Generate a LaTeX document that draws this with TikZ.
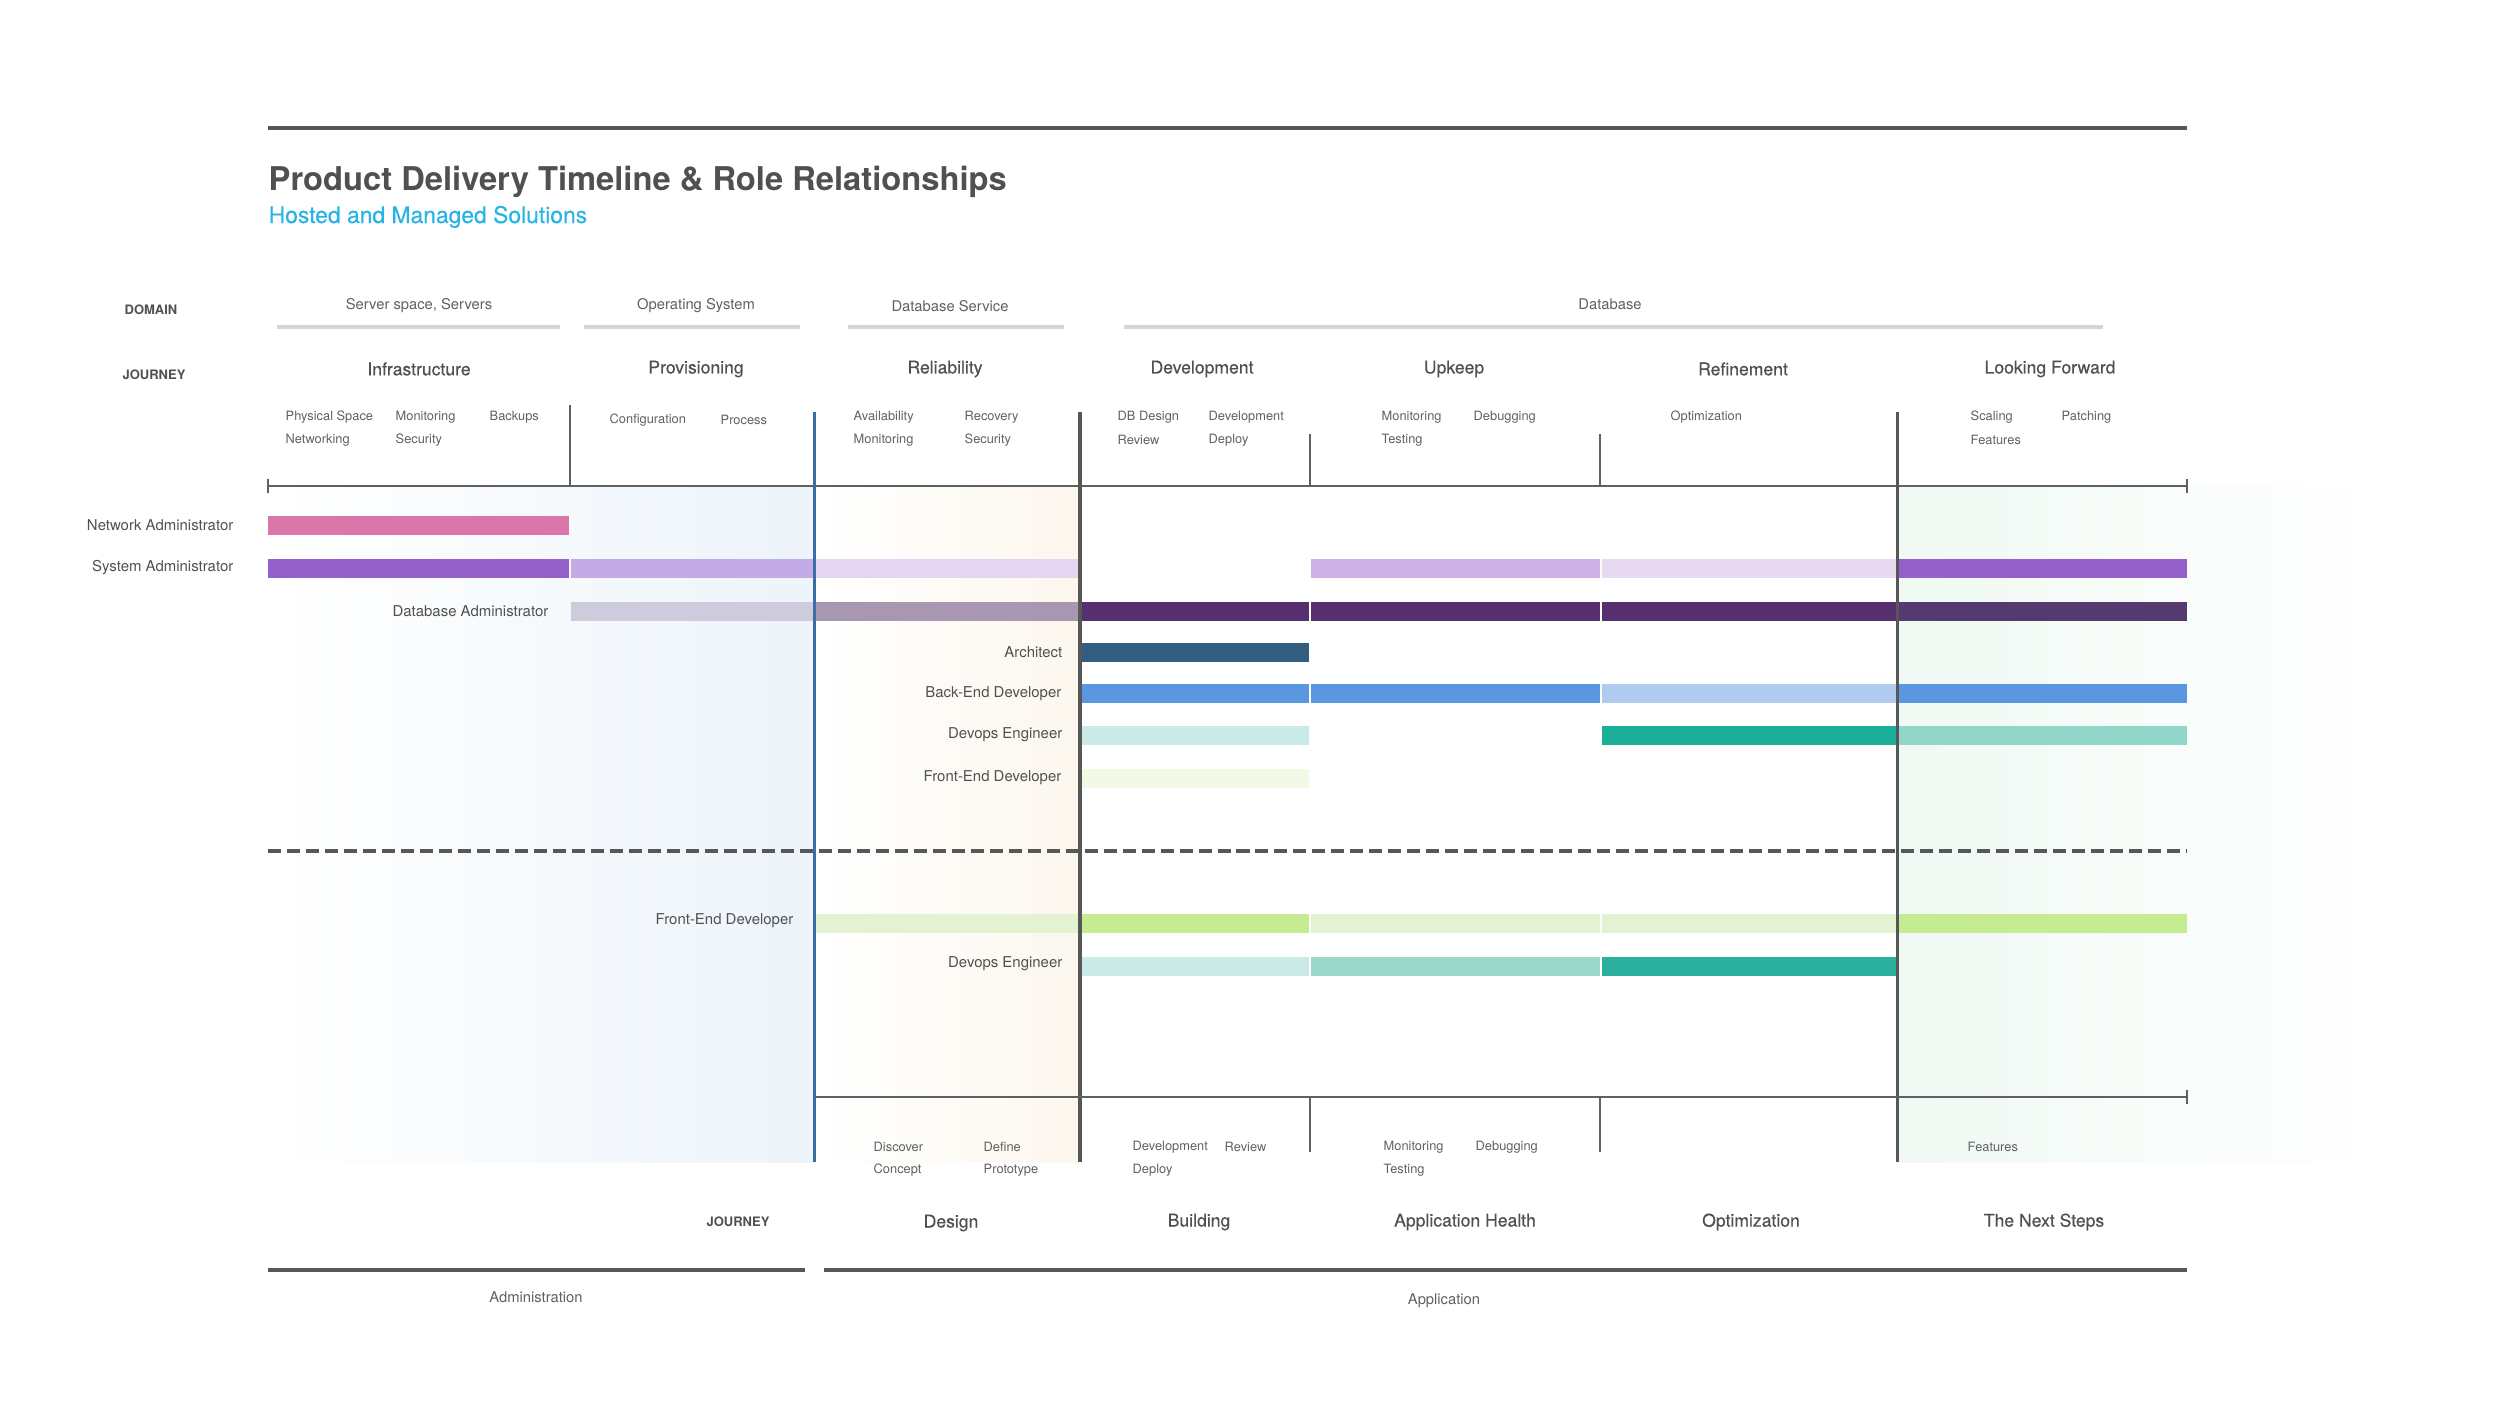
\documentclass[tikz,border=0pt]{standalone}
\usepackage{fontspec}
\setmainfont{TeX Gyre Heros}

\definecolor{ink}{HTML}{505050}
\definecolor{softink}{HTML}{606060}
\definecolor{rule}{HTML}{575757}
\definecolor{skyblue}{HTML}{27B4E4}
\definecolor{domgray}{HTML}{D5D5D5}
\definecolor{phaseblue}{HTML}{3B6EA5}
\definecolor{admbg}{HTML}{EDF4FA}
\definecolor{relbg}{HTML}{FCF7EE}
\definecolor{fwdbg}{HTML}{F0F9F4}
% role colours
\definecolor{netpink}{HTML}{DB76AA}
\definecolor{sysA}{HTML}{9361C9}
\definecolor{sysB}{HTML}{C3ACE5}
\definecolor{sysC}{HTML}{E4D6F0}
\definecolor{sysD}{HTML}{CCB0E6}
\definecolor{sysE}{HTML}{E7D9F2}
\definecolor{dbaA}{HTML}{CDCBDC}
\definecolor{dbaB}{HTML}{A797B0}
\definecolor{dbaC}{HTML}{572F6E}
\definecolor{dbaD}{HTML}{543A6E}
\definecolor{archblue}{HTML}{345E80}
\definecolor{backA}{HTML}{5A97E0}
\definecolor{backB}{HTML}{AFCBF0}
\definecolor{opsA}{HTML}{C9EAE6}
\definecolor{opsB}{HTML}{1BAE99}
\definecolor{opsC}{HTML}{91D7C9}
\definecolor{opsD}{HTML}{9AD8CB}
\definecolor{opsE}{HTML}{2AB09D}
\definecolor{frontA}{HTML}{F0FAE5}
\definecolor{frontB}{HTML}{E4F2D2}
\definecolor{frontC}{HTML}{C6EC92}

\begin{document}
\begin{tikzpicture}[x=0.01cm, y=-0.01cm,
    subitem/.style={anchor=west, inner sep=0pt, text=softink, font=\fontsize{3.65}{4.4}\selectfont},
    heading/.style={inner sep=0pt, text=ink, font=\fontsize{5}{6}\selectfont\addfontfeatures{FakeBold=0.4}},
    domlabel/.style={inner sep=0pt, text=softink, font=\fontsize{4.2}{5}\selectfont},
    role/.style={anchor=east, inner sep=0pt, text=ink, font=\fontsize{4.25}{5}\selectfont},
    tag/.style={inner sep=0pt, text=ink, font=\fontsize{3.7}{4.4}\selectfont\bfseries},
    divider/.style={draw=rule, line width=1pt},
    sepline/.style={draw=softink, line width=0.45pt}]

    \useasboundingbox (0,0) rectangle (2500,1421);

    % backgrounds of the phases
    \shade[left color=white, right color=admbg] (268,486) rectangle (814,1162);
    \shade[left color=white, right color=relbg] (816,486) rectangle (1080,1162);
    \shade[left color=fwdbg, right color=white] (1899,486) rectangle (2390,1162);

    % title
    \draw[rule, line width=1.3pt] (268,128) -- (2187,128);
    \node[anchor=base west, inner sep=0pt, text=ink, font=\fontsize{9.3}{11}\selectfont\bfseries] (title) at (268,190) {Product Delivery Timeline \& Role Relationships};
    \node[anchor=base west, inner sep=0pt, text=skyblue, font=\fontsize{6.5}{8}\selectfont\addfontfeatures{FakeBold=0.3}] (subtitle) at (268,223) {Hosted and Managed Solutions};

    % domains
    \node[tag] (domtag) at (151,310) {DOMAIN};
    \node[domlabel] (dservers) at (419,306) {Server space, Servers};
    \node[domlabel] (dos) at (696,306) {Operating System};
    \node[domlabel] (ddbs) at (950,306) {Database Service};
    \node[domlabel] (ddb) at (1610,304) {Database};
    \draw[domgray, line width=1.3pt] (277,327) -- (560,327);
    \draw[domgray, line width=1.3pt] (584,327) -- (800,327);
    \draw[domgray, line width=1.3pt] (848,327) -- (1064,327);
    \draw[domgray, line width=1.3pt] (1124,327) -- (2103,327);

    % journey (top)
    \node[tag] (jtag) at (154,375) {JOURNEY};
    \node[heading] (infra) at (419,369) {Infrastructure};
    \node[heading] (prov) at (696,369) {Provisioning};
    \node[heading] (rel) at (945,369) {Reliability};
    \node[heading] (dev) at (1202,369) {Development};
    \node[heading] (upk) at (1454,369) {Upkeep};
    \node[heading] (ref) at (1743,369) {Refinement};
    \node[heading] (fwd) at (2050,369) {Looking Forward};

    \node[subitem] (t1) at (285,417) {Physical Space};
    \node[subitem] (t2) at (285,440) {Networking};
    \node[subitem] (t3) at (395,417) {Monitoring};
    \node[subitem] (t4) at (395,440) {Security};
    \node[subitem] (t5) at (489,417) {Backups};
    \node[subitem] (t6) at (609,420) {Configuration};
    \node[subitem] (t7) at (720,420) {Process};
    \node[subitem] (t8) at (853,417) {Availability};
    \node[subitem] (t9) at (853,440) {Monitoring};
    \node[subitem] (t10) at (964,417) {Recovery};
    \node[subitem] (t11) at (964,440) {Security};
    \node[subitem] (t12) at (1117,417) {DB Design};
    \node[subitem] (t13) at (1117,440) {Review};
    \node[subitem] (t14) at (1208,417) {Development};
    \node[subitem] (t15) at (1208,440) {Deploy};
    \node[subitem] (t16) at (1381,417) {Monitoring};
    \node[subitem] (t17) at (1381,440) {Testing};
    \node[subitem] (t18) at (1473,417) {Debugging};
    \node[subitem] (t19) at (1670,417) {Optimization};
    \node[subitem] (t20) at (1970,417) {Scaling};
    \node[subitem] (t21) at (1970,440) {Features};
    \node[subitem] (t22) at (2061,417) {Patching};

    \draw[sepline] (570,405) -- (570,486);
    \draw[sepline] (1310,434) -- (1310,486);
    \draw[sepline] (1600,434) -- (1600,486);
    \draw[softink, line width=0.7pt] (268,486) -- (2187,486);
    \draw[softink, line width=0.5pt] (268,479) -- (268,493);
    \draw[softink, line width=0.5pt] (2187,479) -- (2187,493);

    % role bars
    \foreach \xa/\xb/\y/\c in {
        268/569/525.5/netpink,
        268/569/568/sysA, 571/813/568/sysB, 816/1078/568/sysC, 1311/1599.5/568/sysD, 1602/1896/568/sysE, 1899/2187/568/sysA,
        571/813/611/dbaA, 816/1078/611/dbaB, 1082/1308.5/611/dbaC, 1311/1599.5/611/dbaC, 1602/1896/611/dbaC, 1899/2187/611/dbaD,
        1082/1308.5/652/archblue,
        1082/1308.5/693.5/backA, 1311/1599.5/693.5/backA, 1602/1896/693.5/backB, 1899/2187/693.5/backA,
        1082/1308.5/735/opsA, 1602/1896/735/opsB, 1899/2187/735/opsC,
        1082/1308.5/778/frontA,
        816/1078/923.5/frontB, 1082/1308.5/923.5/frontC, 1311/1599.5/923.5/frontB, 1602/1896/923.5/frontB, 1899/2187/923.5/frontC,
        1082/1308.5/966/opsA, 1311/1599.5/966/opsD, 1602/1896/966/opsE}
        \fill[\c] (\xa,\y-9.5) rectangle (\xb,\y+9.5);

    \node[role] (netadm) at (234,525.5) {Network Administrator};
    \node[role] (sysadm) at (234,568) {System Administrator};
    \node[role] (dbadm) at (549,611) {Database Administrator};
    \node[role] (arch) at (1063,652) {Architect};
    \node[role] (backdev) at (1062,693.5) {Back-End Developer};
    \node[role] (devops) at (1063,735) {Devops Engineer};
    \node[role] (frontdev) at (1062,778) {Front-End Developer};

    \draw[rule, line width=1.05pt, dash pattern=on 3.7pt off 1.7pt] (268,851) -- (2187,851);

    \node[role] (frontdevb) at (794,921) {Front-End Developer};
    \node[role] (devopsb) at (1063,964) {Devops Engineer};

    % phase borders
    \draw[phaseblue, line width=1pt] (814.5,412) -- (814.5,1162);
    \draw[divider] (1080,412) -- (1080,1162);
    \draw[divider] (1897.5,412) -- (1897.5,1162);

    % journey (bottom)
    \draw[softink, line width=0.7pt] (816,1097) -- (2187,1097);
    \draw[softink, line width=0.5pt] (2187,1090) -- (2187,1104);
    \draw[sepline] (1310,1097) -- (1310,1152);
    \draw[sepline] (1600,1097) -- (1600,1152);

    \node[subitem] (b1) at (873,1147) {Discover};
    \node[subitem] (b2) at (873,1170) {Concept};
    \node[subitem] (b3) at (983,1147) {Define};
    \node[subitem] (b4) at (983,1170) {Prototype};
    \node[subitem] (b5) at (1132,1147) {Development};
    \node[subitem] (b6) at (1132,1170) {Deploy};
    \node[subitem] (b7) at (1224,1147) {Review};
    \node[subitem] (b8) at (1383,1147) {Monitoring};
    \node[subitem] (b9) at (1383,1170) {Testing};
    \node[subitem] (b10) at (1475,1147) {Debugging};
    \node[subitem] (b11) at (1967,1147) {Features};

    \node[tag] (jtagb) at (738,1222) {JOURNEY};
    \node[heading] (design) at (951,1223) {Design};
    \node[heading] (build) at (1199,1222) {Building};
    \node[heading] (health) at (1465,1222) {Application Health};
    \node[heading] (optim) at (1751,1222) {Optimization};
    \node[heading] (next) at (2044,1222) {The Next Steps};

    \draw[rule, line width=1pt] (268,1270) -- (805,1270);
    \draw[rule, line width=1pt] (824,1270) -- (2187,1270);
    \node[domlabel] (admin) at (536,1297) {Administration};
    \node[domlabel] (app) at (1444,1301) {Application};

\end{tikzpicture}
\end{document}
